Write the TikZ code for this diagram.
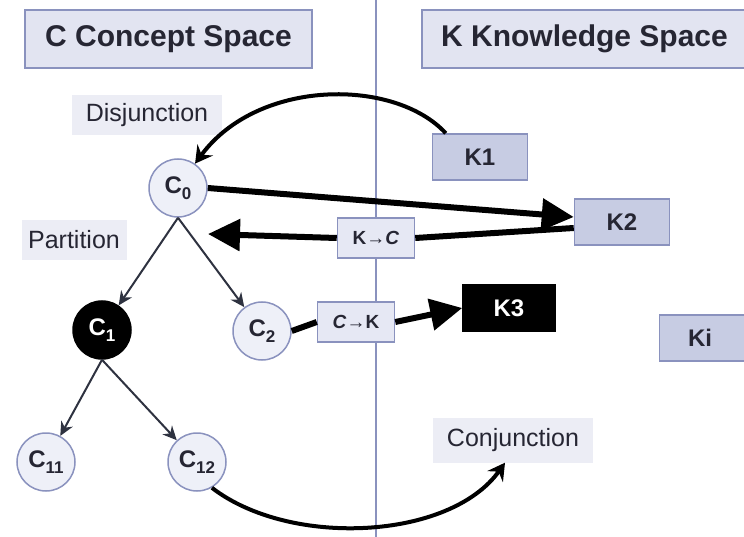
\documentclass[tikz,border=0pt]{standalone}
\usepackage{fontspec}
\setmainfont{Liberation Sans}
\usetikzlibrary{arrows.meta}

\definecolor{spaceLine}{HTML}{8A92BE}
\definecolor{spaceFill}{HTML}{E2E4F1}
\definecolor{tagFill}{HTML}{ECEDF5}
\definecolor{circleFill}{HTML}{EEF0F8}
\definecolor{knowFill}{HTML}{C7CCE3}
\definecolor{passFill}{HTML}{E6E8F4}
\definecolor{treeLine}{HTML}{2E3240}
\definecolor{inkDark}{HTML}{262633}

\begin{document}
\begin{tikzpicture}
[x=1pt,y=-1pt,
  titleDecorate/.style={draw=spaceLine,fill=spaceFill,line width=1.5pt,inner sep=0pt,
    minimum height=58pt,text=inkDark,font=\fontsize{30}{36}\selectfont\bfseries},%
  tagDecorate/.style={fill=tagFill,inner sep=0pt,minimum height=40pt,text=inkDark,
    font=\fontsize{25}{30}\selectfont},%
  conceptDecorate/.style={shape=circle,draw=spaceLine,fill=circleFill,line width=1.5pt,
    inner sep=0pt,minimum size=58pt,text=inkDark,font=\fontsize{24}{28}\selectfont\bfseries},%
  knowDecorate/.style={draw=spaceLine,fill=knowFill,line width=1.5pt,inner sep=0pt,
    minimum width=95pt,minimum height=46pt,text=inkDark,font=\fontsize{24}{28}\selectfont\bfseries},%
  passDecorate/.style={draw=spaceLine,fill=passFill,line width=1.5pt,inner sep=0pt,
    minimum width=77pt,minimum height=40pt,text=inkDark,font=\fontsize{19}{22}\selectfont\bfseries},%
  treeDecorate/.style={-{Stealth[length=14pt,width=13pt]},line width=2pt,draw=treeLine},%
  bigDecorate/.style={-{Triangle[length=32pt,width=31pt]},line width=6pt},%
  bendDecorate/.style={-{Stealth[length=17pt,width=19pt,inset=6pt]},line width=4pt}]
\useasboundingbox (0,0) rectangle (744,537);
%% divider between the two spaces
\coordinate (divTop) at (376,0);
\coordinate (divBottom) at (376,537);
\draw[spaceLine,line width=1.5pt] (divTop) -- (divBottom);
%% titles and tags
\node (cTitle) at (168.5,39) [titleDecorate,minimum width=287pt] {C Concept Space};
\node (kTitle) at (591,39) [titleDecorate,minimum width=338pt] {\hspace*{-13pt}K Knowledge Space};
\node (disj) at (147,115) [tagDecorate,minimum width=150pt] {Disjunction};
\node (part) at (74,240) [tagDecorate,minimum width=105pt] {Partition};
\node (conj) at (513,440) [tagDecorate,minimum width=160pt,minimum height=45pt] {Conjunction};
%% concepts
\foreach \nodename/\x/\y/\sub in {
  C0/178/188/0, C2/262/331/2, C11/46/462/11, C12/197/462/12}
{
  \node (\nodename) at (\x,\y) [conceptDecorate]
    {C\raisebox{-6pt}{\fontsize{17}{17}\selectfont\sub}};
}
\node (C1) at (102,330) [conceptDecorate,draw=black,fill=black,text=white]
  {C\raisebox{-6pt}{\fontsize{17}{17}\selectfont 1}};
%% knowledge
\foreach \nodename/\x/\y in {K1/480/157, K2/622/222}
{
  \node (\nodename) at (\x,\y) [knowDecorate] {\nodename};
}
\node (Ki) at (707,338) [knowDecorate] {\hspace*{-14pt}Ki};
\node (K3) at (509,308) [knowDecorate,draw=black,fill=black,text=white,minimum width=92pt,minimum height=47pt] {K3};
%% operators
\node (kc) at (376,238) [passDecorate] {K→\textit{C}};
\node (ck) at (356,322) [passDecorate] {\textit{C}→K};
\coordinate (kcTip) at (208,234);
%% edges or lines
\path
\foreach \startnode/\endnode in {C0/C1, C0/C2, C1/C11, C1/C12}
{
  (\startnode.south) edge[treeDecorate] (\endnode)
};
\draw[bigDecorate] (C0.east) -- ([yshift=5pt]K2.west);
\draw[line width=6pt] ([yshift=-6pt]K2.west) -- (kc.east);
\draw[bigDecorate] (kc.west) -- (kcTip);
\draw[line width=6pt] (C2.east) -- (ck.west);
\draw[bigDecorate] (ck.east) -- (K3.west);
\draw[bendDecorate] ([xshift=14pt]K1.north west) .. controls (395,78) and (258,78) .. (C0.55);
\draw[bendDecorate] (C12.300) .. controls (290,548) and (450,540) .. ([xshift=-8pt]conj.south);
\end{tikzpicture}
\end{document}
